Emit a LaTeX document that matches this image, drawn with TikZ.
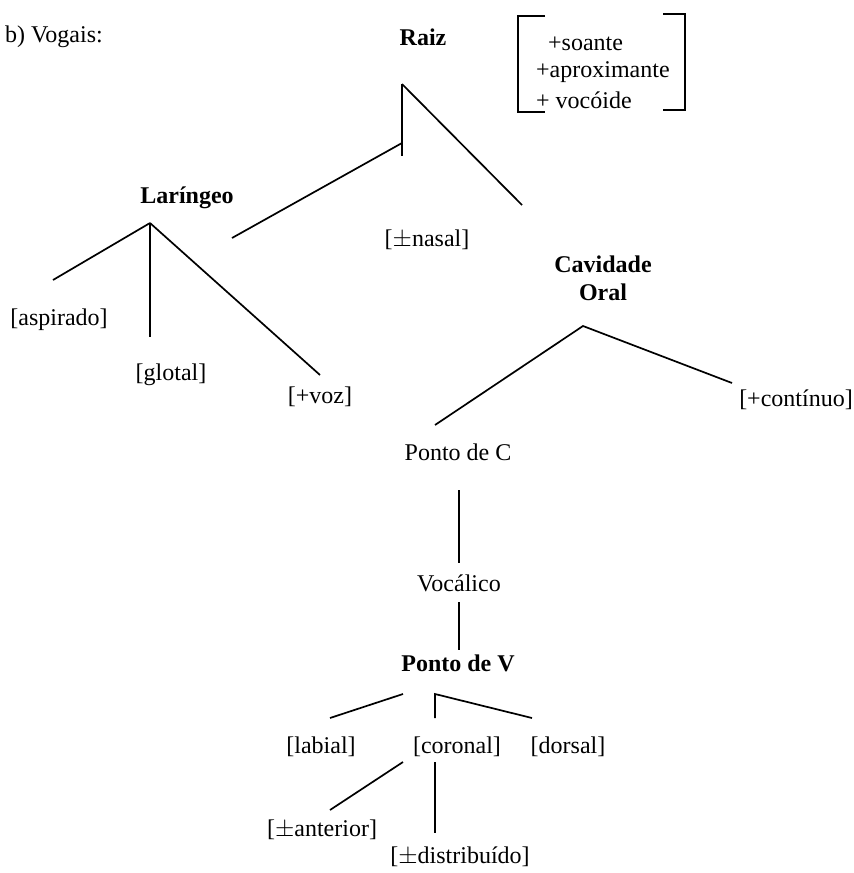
\documentclass[tikz,border=0pt]{standalone}
\usepackage{fontspec}
\setmainfont{Liberation Serif}
\usepackage{tikz}
\usetikzlibrary{calc}

\tikzset{
    feat/.style={inner sep=0pt, font=\fontsize{24pt}{28pt}\selectfont},
    head/.style={feat, font=\fontsize{24pt}{28pt}\selectfont\bfseries},
    ramo/.style={line width=1.7pt},
}

\begin{document}
\begin{tikzpicture}[x=1pt,y=-1pt]
        \useasboundingbox (0,0) rectangle (854,873);
        % titulo e raiz
        \node[feat,anchor=east] (titulo) at (103,37) {b) Vogais:};
        \node[head] (raiz) at (423,37) {Raiz};
        \node[feat,anchor=west] (soante) at (548,44) {+soante};
        \node[feat,anchor=west] (aprox) at (536,72) {+aproximante};
        \node[feat,anchor=west] (vocoide) at (536,100) {+ voc\'oide};
        \draw[ramo] (545,16) -- (518,16) -- (518,112) -- (545,112);
        \draw[ramo] (663,14) -- (685,14) -- (685,110) -- (663,110);
        \coordinate (r0) at (402,84);
        \coordinate (r1) at (402,156);
        \coordinate (r2) at (402,143);
        \coordinate (r3) at (232,238);
        \coordinate (r4) at (522,205);
        \draw[ramo] (r0) -- (r1);
        \draw[ramo] (r2) -- (r3);
        \draw[ramo] (r0) -- (r4);
        \node[feat] (nasal) at (427,240) {[$\pm$nasal]};
        % laringeo
        \node[head] (lar) at (187,198) {Lar\'ingeo};
        \coordinate (l0) at (150,223);
        \coordinate (l1) at (53,280);
        \coordinate (l2) at (150,337);
        \coordinate (l3) at (320,375);
        \foreach \f in {l1,l2,l3}
            \draw[ramo] (l0) -- (\f);
        \node[feat] (asp) at (59,320) {[aspirado]};
        \node[feat] (glotal) at (171,375) {[glotal]};
        \node[feat] (voz) at (320,397) {[+voz]};
        % cavidade oral
        \node[head,align=center] (cav) at (603,278) {Cavidade\\Oral};
        \coordinate (c0) at (583,326);
        \coordinate (c1) at (435,425);
        \coordinate (c2) at (732,383);
        \draw[ramo] (c1) -- (c0) -- (c2);
        \node[feat] (cont) at (796,400) {[+cont\'inuo]};
        \node[feat] (pc) at (458,452) {Ponto de C};
        \draw[ramo] (459,490) -- (459,563);
        \node[feat] (voc) at (459,583) {Voc\'alico};
        \draw[ramo] (459,602) -- (459,650);
        \node[head] (pv) at (458,663) {Ponto de V};
        % ponto de v
        \coordinate (v0) at (403,694);
        \coordinate (v1) at (330,718);
        \coordinate (v2) at (435,694);
        \coordinate (v3) at (435,718);
        \coordinate (v4) at (532,718);
        \draw[ramo] (v0) -- (v1);
        \draw[ramo] (v3) -- (v2) -- (v4);
        \node[feat] (lab) at (321,747) {[labial]};
        \node[feat] (cor) at (457,747) {[coronal]};
        \node[feat] (dor) at (568,747) {[dorsal]};
        \coordinate (k0) at (403,762);
        \coordinate (k1) at (330,810);
        \coordinate (k2) at (435,762);
        \coordinate (k3) at (435,833);
        \draw[ramo] (k0) -- (k1);
        \draw[ramo] (k2) -- (k3);
        \node[feat] (ant) at (322,830) {[$\pm$anterior]};
        \node[feat] (dist) at (460,857) {[$\pm$distribu\'ido]};
    \end{tikzpicture}
\end{document}
